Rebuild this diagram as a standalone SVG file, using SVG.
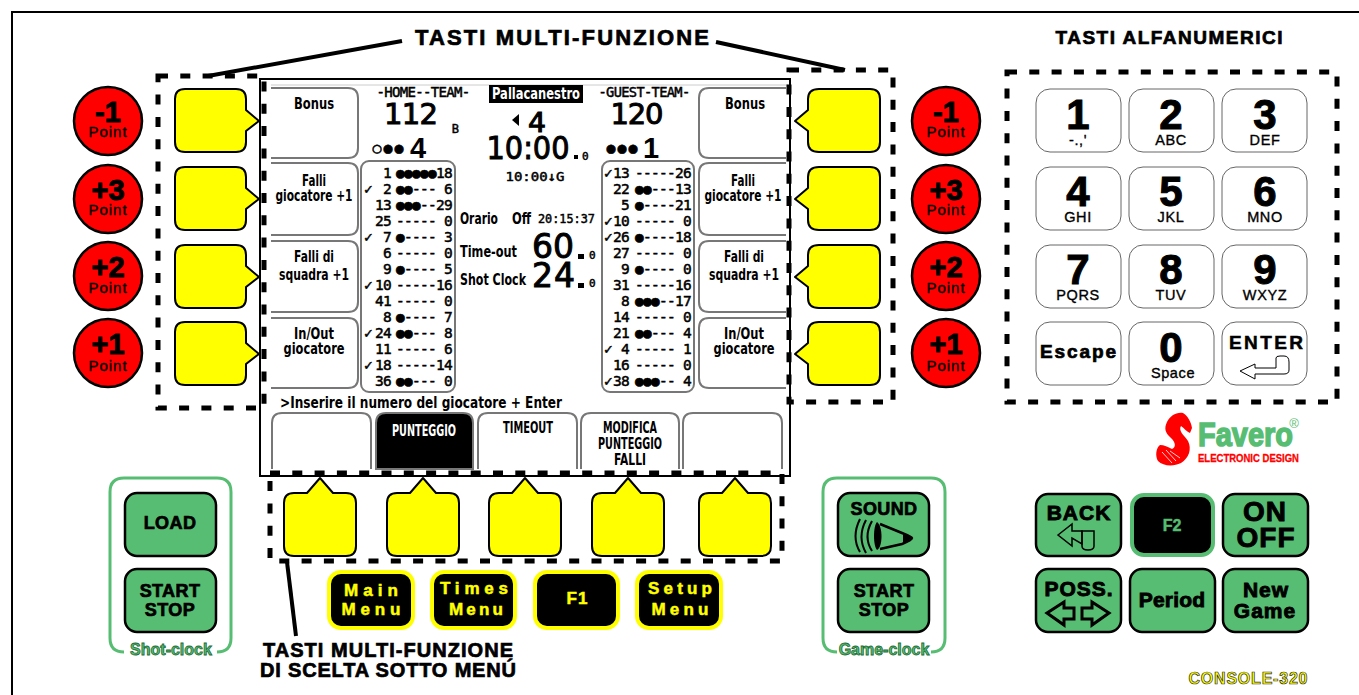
<svg xmlns="http://www.w3.org/2000/svg" width="1359" height="695" viewBox="0 0 1359 695">
<style>
text{font-family:"Liberation Sans",Arial,sans-serif;font-weight:bold;text-anchor:middle;fill:#000}
.dash{fill:none;stroke:#000;stroke-width:5;stroke-dasharray:10 12.3}
.y{fill:#ff0;stroke:#000;stroke-width:2;stroke-linejoin:round}
.c{fill:#f00;stroke:#000;stroke-width:2.5}
.big{font-size:29px;stroke:#000;stroke-width:1}
.pt{font-size:15px;font-weight:normal;letter-spacing:1px;stroke:#000;stroke-width:.35}
.k{fill:#fff;stroke:#666;stroke-width:1}
.dg{font-size:42px;stroke:#000;stroke-width:1}
.sb{font-size:14.5px;font-weight:normal;letter-spacing:.6px;stroke:#000;stroke-width:.35}
.g{fill:#57bd72;stroke:#000;stroke-width:2.5}
.gt{font-size:18px;letter-spacing:.4px;stroke:#000;stroke-width:.7}
.gt2{font-size:23px;letter-spacing:1px;stroke:#000;stroke-width:.9}
.fr{fill:none;stroke:#57bd72;stroke-width:3}
.lb{font-size:16px;fill:#57bd72;stroke:#1d6b35;stroke-width:.8}
.m{fill:#000;stroke:#ff0;stroke-width:4}
.mt{fill:#ff0;font-size:17px;stroke:#ff0;stroke-width:.5}
.ttl{font-size:22px;stroke:#000;stroke-width:.7}
.sk{fill:#fff;stroke:#777;stroke-width:2}
.lcd{font-family:"DejaVu Sans","Liberation Sans",sans-serif;font-size:15px;font-weight:bold;stroke:none}
.mono{font-family:"DejaVu Sans Mono","Liberation Mono",monospace;font-size:14.5px;font-weight:normal;stroke:#000;stroke-width:.5;letter-spacing:-.7px}
.bg{font-family:"DejaVu Sans","Liberation Sans",sans-serif;font-weight:normal;stroke:#000;stroke-width:1}
.s{text-anchor:start}.e{text-anchor:end}
.ln{fill:none;stroke:#000;stroke-width:1.5}
</style>
<defs>
<path id="ykL" class="y" d="M185 89H236Q246 89 246 99V110L259 121L246 131V142Q246 152 236 152H185Q175 152 175 142V99Q175 89 185 89Z"/>
<path id="ykR" class="y" d="M870 89H819Q808 89 808 99V110L795 121L808 131V142Q808 152 819 152H870Q880 152 880 142V99Q880 89 870 89Z"/>
<path id="ykB" class="y" d="M294 493H307L320 478L333 493H346Q356 493 356 503V546Q356 556 346 556H294Q284 556 284 546V503Q284 493 294 493Z"/>
</defs>
<path id="frame" d="M12 695V12H1359" fill="none" stroke="#000" stroke-width="2"/>

<g id="screen">
<rect x="260" y="79" width="530" height="397" fill="#fff" stroke="#000" stroke-width="2"/>
<line x1="271" y1="85" x2="788" y2="85" stroke="#ccc"/>
<g id="softkeys-side">
<path class="sk" d="M271 88H348Q358 88 358 98V148Q358 158 348 158H271"/>
<path class="sk" d="M271 163H348Q358 163 358 173V225Q358 235 348 235H271"/>
<path class="sk" d="M271 241H348Q358 241 358 251V302Q358 312 348 312H271"/>
<path class="sk" d="M271 318H348Q358 318 358 328V378Q358 388 348 388H271"/>
<path class="sk" d="M786 88H709Q699 88 699 98V148Q699 158 709 158H786"/>
<path class="sk" d="M786 163H709Q699 163 699 173V225Q699 235 709 235H786"/>
<path class="sk" d="M786 241H709Q699 241 699 251V302Q699 312 709 312H786"/>
<path class="sk" d="M786 318H709Q699 318 699 328V378Q699 388 709 388H786"/>
<text class="lcd" x="314" y="109" textLength="40" lengthAdjust="spacingAndGlyphs">Bonus</text>
<text class="lcd" x="314" y="186" textLength="24" lengthAdjust="spacingAndGlyphs">Falli</text>
<text class="lcd" x="314" y="201" textLength="77" lengthAdjust="spacingAndGlyphs">giocatore +1</text>
<text class="lcd" x="314" y="262" textLength="40" lengthAdjust="spacingAndGlyphs">Falli di</text>
<text class="lcd" x="314" y="280" textLength="70" lengthAdjust="spacingAndGlyphs">squadra +1</text>
<text class="lcd" x="314" y="339" textLength="40" lengthAdjust="spacingAndGlyphs">In/Out</text>
<text class="lcd" x="314" y="354" textLength="61" lengthAdjust="spacingAndGlyphs">giocatore</text>
<text class="lcd" x="745" y="109" textLength="40" lengthAdjust="spacingAndGlyphs">Bonus</text>
<text class="lcd" x="743" y="186" textLength="24" lengthAdjust="spacingAndGlyphs">Falli</text>
<text class="lcd" x="743" y="201" textLength="77" lengthAdjust="spacingAndGlyphs">giocatore +1</text>
<text class="lcd" x="744" y="262" textLength="40" lengthAdjust="spacingAndGlyphs">Falli di</text>
<text class="lcd" x="744" y="280" textLength="70" lengthAdjust="spacingAndGlyphs">squadra +1</text>
<text class="lcd" x="744" y="339" textLength="40" lengthAdjust="spacingAndGlyphs">In/Out</text>
<text class="lcd" x="744" y="354" textLength="61" lengthAdjust="spacingAndGlyphs">giocatore</text>
</g>
<g id="softkeys-bottom">
<path class="sk" d="M272 469V423Q272 413 282 413H361Q371 413 371 423V469"/>
<path d="M376 469V423Q376 413 386 413H463Q473 413 473 423V469Z" fill="#000" stroke="#777" stroke-width="2"/>
<path class="sk" d="M478 469V423Q478 413 488 413H567Q577 413 577 423V469"/>
<path class="sk" d="M581 469V423Q581 413 591 413H669Q679 413 679 423V469"/>
<path class="sk" d="M683 469V423Q683 413 693 413H772Q782 413 782 423V469"/>
<text class="lcd" x="424" y="436" style="fill:#fff" textLength="64" lengthAdjust="spacingAndGlyphs">PUNTEGGIO</text>
<text class="lcd" x="528" y="433" textLength="50" lengthAdjust="spacingAndGlyphs">TIMEOUT</text>
<text class="lcd" x="630" y="433" textLength="54" lengthAdjust="spacingAndGlyphs">MODIFICA</text>
<text class="lcd" x="630" y="449" textLength="64" lengthAdjust="spacingAndGlyphs">PUNTEGGIO</text>
<text class="lcd" x="630" y="465" textLength="32" lengthAdjust="spacingAndGlyphs">FALLI</text>
</g>
<g id="scoreboard">
<text class="mono" x="423" y="97" textLength="93" lengthAdjust="spacingAndGlyphs">-HOME--TEAM-</text>
<text class="bg" x="411" y="124" style="font-size:29px" textLength="54" lengthAdjust="spacing">112</text>
<text class="mono" x="455" y="133" style="font-size:12px">B</text>
<text class="mono" x="388" y="153" style="font-size:15px;letter-spacing:0" textLength="31" lengthAdjust="spacing">○●●</text>
<text x="418" y="158" style="font-size:29px">4</text>
<rect x="489" y="85" width="94" height="18" fill="#000"/>
<text class="lcd" x="536" y="99" style="fill:#fff" textLength="88" lengthAdjust="spacingAndGlyphs">Pallacanestro</text>
<path d="M519 114V126L512 120Z" fill="#000"/>
<text class="bg" x="537" y="132" style="font-size:26px" textLength="18" lengthAdjust="spacingAndGlyphs">4</text>
<text class="bg" x="528" y="159" style="font-size:32px" textLength="83" lengthAdjust="spacingAndGlyphs">10:00</text>
<rect x="574" y="155" width="4" height="4"/>
<text class="mono" x="585" y="160" style="font-size:11px">0</text>
<text class="mono" x="535" y="181" style="font-size:13px;letter-spacing:0" textLength="59" lengthAdjust="spacingAndGlyphs">10:00↓G</text>
<text class="mono" x="644" y="97" textLength="91" lengthAdjust="spacingAndGlyphs">-GUEST-TEAM-</text>
<text class="bg" x="637" y="124" style="font-size:29px" textLength="53" lengthAdjust="spacing">120</text>
<text class="mono" x="622" y="153" style="font-size:15px;letter-spacing:0" textLength="31" lengthAdjust="spacing">●●●</text>
<text x="651" y="158" style="font-size:29px">1</text>
<text class="lcd s" x="460" y="224" textLength="38" lengthAdjust="spacingAndGlyphs">Orario</text>
<text class="lcd s" x="512" y="224" textLength="19" lengthAdjust="spacingAndGlyphs">Off</text>
<text class="mono s" x="538" y="223" style="font-size:13px;letter-spacing:0" textLength="57" lengthAdjust="spacingAndGlyphs">20:15:37</text>
<text class="lcd s" x="460" y="257" textLength="57" lengthAdjust="spacingAndGlyphs">Time-out</text>
<text class="bg s" x="532" y="258" style="font-size:34px" textLength="42" lengthAdjust="spacingAndGlyphs">60</text>
<rect x="578" y="254" width="6" height="5"/>
<text class="mono" x="592" y="259" style="font-size:11px">0</text>
<text class="lcd s" x="460" y="285" textLength="66" lengthAdjust="spacingAndGlyphs">Shot Clock</text>
<text class="bg s" x="532" y="287" style="font-size:33px" textLength="43" lengthAdjust="spacing">24</text>
<rect x="578" y="283" width="6" height="5"/>
<text class="mono" x="592" y="287" style="font-size:11px">0</text>
<text class="lcd s" x="280" y="408" textLength="282" lengthAdjust="spacingAndGlyphs">&gt;Inserire il numero del giocatore + Enter</text>
</g>
<g id="home-list">
<rect x="361" y="161" width="94" height="231" rx="8" fill="none" stroke="#777" stroke-width="2"/>
<g class="rows">
<text class="mono e" x="391" y="178">1</text><text class="mono s" x="396" y="178" textLength="40" lengthAdjust="spacingAndGlyphs">●●●●●</text><text class="mono e" x="452" y="178">18</text>
<text class="mono" x="368" y="194">✓</text><text class="mono e" x="391" y="194">2</text><text class="mono s" x="396" y="194" textLength="40" lengthAdjust="spacingAndGlyphs">●●---</text><text class="mono e" x="452" y="194">6</text>
<text class="mono e" x="391" y="210">13</text><text class="mono s" x="396" y="210" textLength="40" lengthAdjust="spacingAndGlyphs">●●●--</text><text class="mono e" x="452" y="210">29</text>
<text class="mono e" x="391" y="226">25</text><text class="mono s" x="396" y="226" textLength="40" lengthAdjust="spacingAndGlyphs">-----</text><text class="mono e" x="452" y="226">0</text>
<text class="mono" x="368" y="242">✓</text><text class="mono e" x="391" y="242">7</text><text class="mono s" x="396" y="242" textLength="40" lengthAdjust="spacingAndGlyphs">●----</text><text class="mono e" x="452" y="242">3</text>
<text class="mono e" x="391" y="258">6</text><text class="mono s" x="396" y="258" textLength="40" lengthAdjust="spacingAndGlyphs">-----</text><text class="mono e" x="452" y="258">0</text>
<text class="mono e" x="391" y="274">9</text><text class="mono s" x="396" y="274" textLength="40" lengthAdjust="spacingAndGlyphs">●----</text><text class="mono e" x="452" y="274">5</text>
<text class="mono" x="368" y="290">✓</text><text class="mono e" x="391" y="290">10</text><text class="mono s" x="396" y="290" textLength="40" lengthAdjust="spacingAndGlyphs">-----</text><text class="mono e" x="452" y="290">16</text>
<text class="mono e" x="391" y="306">41</text><text class="mono s" x="396" y="306" textLength="40" lengthAdjust="spacingAndGlyphs">-----</text><text class="mono e" x="452" y="306">0</text>
<text class="mono e" x="391" y="322">8</text><text class="mono s" x="396" y="322" textLength="40" lengthAdjust="spacingAndGlyphs">●----</text><text class="mono e" x="452" y="322">7</text>
<text class="mono" x="368" y="338">✓</text><text class="mono e" x="391" y="338">24</text><text class="mono s" x="396" y="338" textLength="40" lengthAdjust="spacingAndGlyphs">●●---</text><text class="mono e" x="452" y="338">8</text>
<text class="mono e" x="391" y="354">11</text><text class="mono s" x="396" y="354" textLength="40" lengthAdjust="spacingAndGlyphs">-----</text><text class="mono e" x="452" y="354">6</text>
<text class="mono" x="368" y="370">✓</text><text class="mono e" x="391" y="370">18</text><text class="mono s" x="396" y="370" textLength="40" lengthAdjust="spacingAndGlyphs">-----</text><text class="mono e" x="452" y="370">14</text>
<text class="mono e" x="391" y="386">36</text><text class="mono s" x="396" y="386" textLength="40" lengthAdjust="spacingAndGlyphs">●●---</text><text class="mono e" x="452" y="386">0</text>
</g>
</g>
<g id="guest-list">
<rect x="602" y="161" width="92" height="231" rx="8" fill="none" stroke="#777" stroke-width="2"/>
<g class="rows">
<text class="mono" x="608" y="178">✓</text><text class="mono e" x="629" y="178">13</text><text class="mono s" x="635" y="178" textLength="40" lengthAdjust="spacingAndGlyphs">-----</text><text class="mono e" x="691" y="178">26</text>
<text class="mono e" x="629" y="194">22</text><text class="mono s" x="635" y="194" textLength="40" lengthAdjust="spacingAndGlyphs">●●---</text><text class="mono e" x="691" y="194">13</text>
<text class="mono e" x="629" y="210">5</text><text class="mono s" x="635" y="210" textLength="40" lengthAdjust="spacingAndGlyphs">●----</text><text class="mono e" x="691" y="210">21</text>
<text class="mono" x="608" y="226">✓</text><text class="mono e" x="629" y="226">10</text><text class="mono s" x="635" y="226" textLength="40" lengthAdjust="spacingAndGlyphs">-----</text><text class="mono e" x="691" y="226">0</text>
<text class="mono" x="608" y="242">✓</text><text class="mono e" x="629" y="242">26</text><text class="mono s" x="635" y="242" textLength="40" lengthAdjust="spacingAndGlyphs">●----</text><text class="mono e" x="691" y="242">18</text>
<text class="mono e" x="629" y="258">27</text><text class="mono s" x="635" y="258" textLength="40" lengthAdjust="spacingAndGlyphs">-----</text><text class="mono e" x="691" y="258">0</text>
<text class="mono e" x="629" y="274">9</text><text class="mono s" x="635" y="274" textLength="40" lengthAdjust="spacingAndGlyphs">●----</text><text class="mono e" x="691" y="274">0</text>
<text class="mono e" x="629" y="290">31</text><text class="mono s" x="635" y="290" textLength="40" lengthAdjust="spacingAndGlyphs">-----</text><text class="mono e" x="691" y="290">16</text>
<text class="mono e" x="629" y="306">8</text><text class="mono s" x="635" y="306" textLength="40" lengthAdjust="spacingAndGlyphs">●●●--</text><text class="mono e" x="691" y="306">17</text>
<text class="mono e" x="629" y="322">14</text><text class="mono s" x="635" y="322" textLength="40" lengthAdjust="spacingAndGlyphs">-----</text><text class="mono e" x="691" y="322">0</text>
<text class="mono e" x="629" y="338">21</text><text class="mono s" x="635" y="338" textLength="40" lengthAdjust="spacingAndGlyphs">●●---</text><text class="mono e" x="691" y="338">4</text>
<text class="mono" x="608" y="354">✓</text><text class="mono e" x="629" y="354">4</text><text class="mono s" x="635" y="354" textLength="40" lengthAdjust="spacingAndGlyphs">-----</text><text class="mono e" x="691" y="354">1</text>
<text class="mono e" x="629" y="370">16</text><text class="mono s" x="635" y="370" textLength="40" lengthAdjust="spacingAndGlyphs">-----</text><text class="mono e" x="691" y="370">0</text>
<text class="mono" x="608" y="386">✓</text><text class="mono e" x="629" y="386">38</text><text class="mono s" x="635" y="386" textLength="40" lengthAdjust="spacingAndGlyphs">●●●--</text><text class="mono e" x="691" y="386">4</text>
</g>
</g>
</g>

<g id="connectors">
<line x1="402" y1="41" x2="208" y2="76" stroke="#000" stroke-width="4"/>
<line x1="716" y1="42" x2="845" y2="70" stroke="#000" stroke-width="4"/>
<line x1="287" y1="562" x2="296" y2="636" stroke="#000" stroke-width="4"/>
</g>

<g id="title-top"><text class="ttl" x="562" y="45" textLength="294" lengthAdjust="spacing">TASTI MULTI-FUNZIONE</text></g>
<g id="title-keys"><text class="ttl" x="1169" y="44" style="font-size:19px" textLength="227" lengthAdjust="spacing">TASTI ALFANUMERICI</text></g>
<g id="title-sub">
<text class="ttl" x="388" y="657" style="font-size:20px" textLength="250" lengthAdjust="spacing">TASTI MULTI-FUNZIONE</text>
<text class="ttl" x="388" y="677" style="font-size:20px" textLength="256" lengthAdjust="spacing">DI SCELTA SOTTO MENÚ</text>
</g>

<g id="dash-left"><rect class="dash" x="158" y="76" width="106" height="332"/></g>
<g id="dash-right"><rect class="dash" x="789" y="70" width="104" height="332"/></g>
<g id="dash-bottom"><rect class="dash" x="270" y="473" width="512" height="88"/></g>
<g id="dash-keypad"><rect class="dash" x="1007" y="72" width="330" height="330"/></g>

<g id="yellow-left">
<use href="#ykL"/><use href="#ykL" y="78"/><use href="#ykL" y="156"/><use href="#ykL" y="233"/>
</g>
<g id="yellow-right">
<use href="#ykR"/><use href="#ykR" y="78"/><use href="#ykR" y="156"/><use href="#ykR" y="233"/>
</g>
<g id="yellow-bottom">
<use href="#ykB"/><use href="#ykB" x="103"/><use href="#ykB" x="205"/><use href="#ykB" x="308"/><use href="#ykB" x="415"/>
</g>

<g id="points-left">
<circle class="c" cx="108" cy="121" r="34"/><text class="big" x="108" y="122">-1</text><text class="pt" x="108" y="137">Point</text>
<circle class="c" cx="108" cy="199" r="34"/><text class="big" x="108" y="200">+3</text><text class="pt" x="108" y="215">Point</text>
<circle class="c" cx="108" cy="276" r="34"/><text class="big" x="108" y="277">+2</text><text class="pt" x="108" y="293">Point</text>
<circle class="c" cx="108" cy="353" r="34"/><text class="big" x="108" y="354">+1</text><text class="pt" x="108" y="371">Point</text>
</g>
<g id="points-right">
<circle class="c" cx="946" cy="121" r="34"/><text class="big" x="946" y="122">-1</text><text class="pt" x="946" y="137">Point</text>
<circle class="c" cx="946" cy="199" r="34"/><text class="big" x="946" y="200">+3</text><text class="pt" x="946" y="215">Point</text>
<circle class="c" cx="946" cy="276" r="34"/><text class="big" x="946" y="277">+2</text><text class="pt" x="946" y="293">Point</text>
<circle class="c" cx="946" cy="353" r="34"/><text class="big" x="946" y="354">+1</text><text class="pt" x="946" y="371">Point</text>
</g>

<g id="keypad">
<rect class="k" x="1036" y="89" width="85" height="63" rx="14"/><text class="dg" x="1078" y="129">1</text><text class="sb" x="1078" y="145">-.,'</text>
<rect class="k" x="1129" y="89" width="85" height="63" rx="14"/><text class="dg" x="1171" y="129">2</text><text class="sb" x="1171" y="145">ABC</text>
<rect class="k" x="1222" y="89" width="85" height="63" rx="14"/><text class="dg" x="1265" y="129">3</text><text class="sb" x="1265" y="145">DEF</text>
<rect class="k" x="1036" y="167" width="85" height="63" rx="14"/><text class="dg" x="1078" y="206">4</text><text class="sb" x="1078" y="222">GHI</text>
<rect class="k" x="1129" y="167" width="85" height="63" rx="14"/><text class="dg" x="1171" y="206">5</text><text class="sb" x="1171" y="222">JKL</text>
<rect class="k" x="1222" y="167" width="85" height="63" rx="14"/><text class="dg" x="1265" y="206">6</text><text class="sb" x="1265" y="222">MNO</text>
<rect class="k" x="1036" y="245" width="85" height="63" rx="14"/><text class="dg" x="1078" y="284">7</text><text class="sb" x="1078" y="300">PQRS</text>
<rect class="k" x="1129" y="245" width="85" height="63" rx="14"/><text class="dg" x="1171" y="284">8</text><text class="sb" x="1171" y="300">TUV</text>
<rect class="k" x="1222" y="245" width="85" height="63" rx="14"/><text class="dg" x="1265" y="284">9</text><text class="sb" x="1265" y="300">WXYZ</text>
<rect class="k" x="1036" y="322" width="85" height="63" rx="14"/><text x="1078" y="358" style="font-size:19px;stroke:#000;stroke-width:.7" textLength="76" lengthAdjust="spacing">Escape</text>
<rect class="k" x="1129" y="322" width="85" height="63" rx="14"/><text class="dg" x="1171" y="362">0</text><text class="sb" x="1173" y="378">Space</text>
<rect class="k" x="1222" y="322" width="85" height="63" rx="14"/><text x="1266" y="349" style="font-size:19px;stroke:#000;stroke-width:.5" textLength="74" lengthAdjust="spacing">ENTER</text>
<path class="ln" style="stroke-width:1" d="M1240 371L1255 364V368H1276V358Q1276 356 1280 356H1284Q1289 356 1289 362V370Q1289 374 1284 374H1255V379Z"/>
</g>

<g id="logo">
<path fill="#f00" d="M1183 413C1176 412 1170 416 1167 422C1164 428 1165 433 1171 438C1176 443 1176 447 1172 449C1168 447 1164 445 1160 445C1156 448 1155 456 1158 461C1163 466 1173 467 1181 463C1189 458 1192 449 1188 441C1184 435 1178 431 1181 426C1184 428 1187 432 1190 433L1192 428C1191 422 1188 416 1183 413Z"/>
<path fill="none" stroke="#fff" stroke-width=".8" d="M1162 452L1172 463M1166 450L1176 461M1170 451L1180 458"/>
<text class="s" x="1198" y="446" style="font-size:34px;fill:#57bd72;stroke:#57bd72;stroke-width:1.5" textLength="95" lengthAdjust="spacingAndGlyphs">Favero</text>
<text x="1294" y="428" style="font-size:13px;font-weight:normal;fill:#57bd72">®</text>
<text class="s" x="1198" y="462" style="font-size:11.5px;fill:#f00;stroke:#f00;stroke-width:.3" textLength="101" lengthAdjust="spacingAndGlyphs">ELECTRONIC DESIGN</text>
</g>

<g id="shot-clock">
<path class="fr" d="M124 652Q110 652 110 638V492Q110 478 124 478H217Q231 478 231 492V638Q231 652 217 652"/>
<rect class="g" x="125" y="493" width="91" height="63" rx="12"/><text class="gt" x="170" y="529">LOAD</text>
<rect class="g" x="125" y="569" width="91" height="63" rx="12"/><text class="gt" x="170" y="597">START</text><text class="gt" x="170" y="616">STOP</text>
<text class="lb" x="171" y="655">Shot-clock</text>
</g>
<g id="game-clock">
<path class="fr" d="M837 652Q823 652 823 638V492Q823 478 837 478H931Q945 478 945 492V638Q945 652 931 652"/>
<rect class="g" x="838" y="493" width="91" height="63" rx="12"/><text class="gt" x="884" y="515">SOUND</text>
<path d="M877 522C873 526 873 546 877 550C883 547 883 526 877 522Z" fill="#000"/>
<path fill="none" stroke="#000" stroke-width="2.5" d="M880 524L902 533Q912 537 912 538Q912 540 902 544L880 549"/>
<path d="M903 533L912 538L903 544Z" fill="#000"/>
<path fill="none" stroke="#000" stroke-width="2" d="M872 521Q863 537 872 551M866 520Q857 537 866 553M860 519Q851 537 860 552"/>
<rect class="g" x="838" y="569" width="91" height="63" rx="12"/><text class="gt" x="884" y="597">START</text><text class="gt" x="884" y="616">STOP</text>
<text class="lb" x="884" y="655">Game-clock</text>
</g>

<g id="menus">
<rect class="m" x="329" y="572" width="84" height="56" rx="12"/><text class="mt" x="371" y="596" textLength="54" lengthAdjust="spacing">Main</text><text class="mt" x="371" y="615" textLength="59" lengthAdjust="spacing">Menu</text>
<rect class="m" x="432" y="572" width="83" height="56" rx="12"/><text class="mt" x="474" y="594" textLength="68" lengthAdjust="spacing">Times</text><text class="mt" x="476" y="615" textLength="54" lengthAdjust="spacing">Menu</text>
<rect class="m" x="535" y="572" width="83" height="56" rx="12"/><text class="mt" x="577" y="604" textLength="21" lengthAdjust="spacing">F1</text>
<rect class="m" x="637" y="572" width="84" height="56" rx="12"/><text class="mt" x="680" y="594" textLength="64" lengthAdjust="spacing">Setup</text><text class="mt" x="680" y="615" textLength="57" lengthAdjust="spacing">Menu</text>
</g>

<g id="function-keys">
<rect class="g" x="1036" y="494" width="85" height="62" rx="12"/><text class="gt2" x="1079" y="520" style="font-size:21px">BACK</text>
<path class="ln" d="M1058 535L1072 524V531H1082V544L1072 538V546Z"/><path class="ln" d="M1082 531H1094V546Q1094 550 1088 550T1082 546Z"/>
<rect x="1132" y="495" width="81" height="60" rx="12" fill="#000" stroke="#57bd72" stroke-width="4"/><text x="1172" y="531" style="font-size:16px;fill:#57bd72;stroke:#57bd72;stroke-width:.5">F2</text>
<rect class="g" x="1223" y="494" width="85" height="62" rx="12"/><text class="gt2" x="1265" y="521" style="font-size:28px">ON</text><text class="gt2" x="1266" y="547" style="font-size:28px">OFF</text>
<rect class="g" x="1036" y="569" width="85" height="63" rx="12"/><text class="gt2" x="1079" y="596" style="font-size:21px">POSS.</text>
<path fill="none" stroke="#000" stroke-width="3" d="M1047 613L1064 602V608H1074V619H1064V625Z"/><path fill="none" stroke="#000" stroke-width="3" d="M1109 613L1092 602V608H1082V619H1092V625Z"/>
<rect class="g" x="1130" y="569" width="85" height="63" rx="12"/><text class="gt2" x="1172" y="607" style="font-size:21px;letter-spacing:.2px">Period</text>
<rect class="g" x="1223" y="569" width="85" height="63" rx="12"/><text class="gt2" x="1266" y="597" style="font-size:21px">New</text><text class="gt2" x="1265" y="618" style="font-size:21px">Game</text>
</g>

<g id="model"><text x="1248" y="684" style="font-size:16px;fill:#ff0;stroke:#333;stroke-width:.7" textLength="119" lengthAdjust="spacing">CONSOLE-320</text></g>
</svg>
